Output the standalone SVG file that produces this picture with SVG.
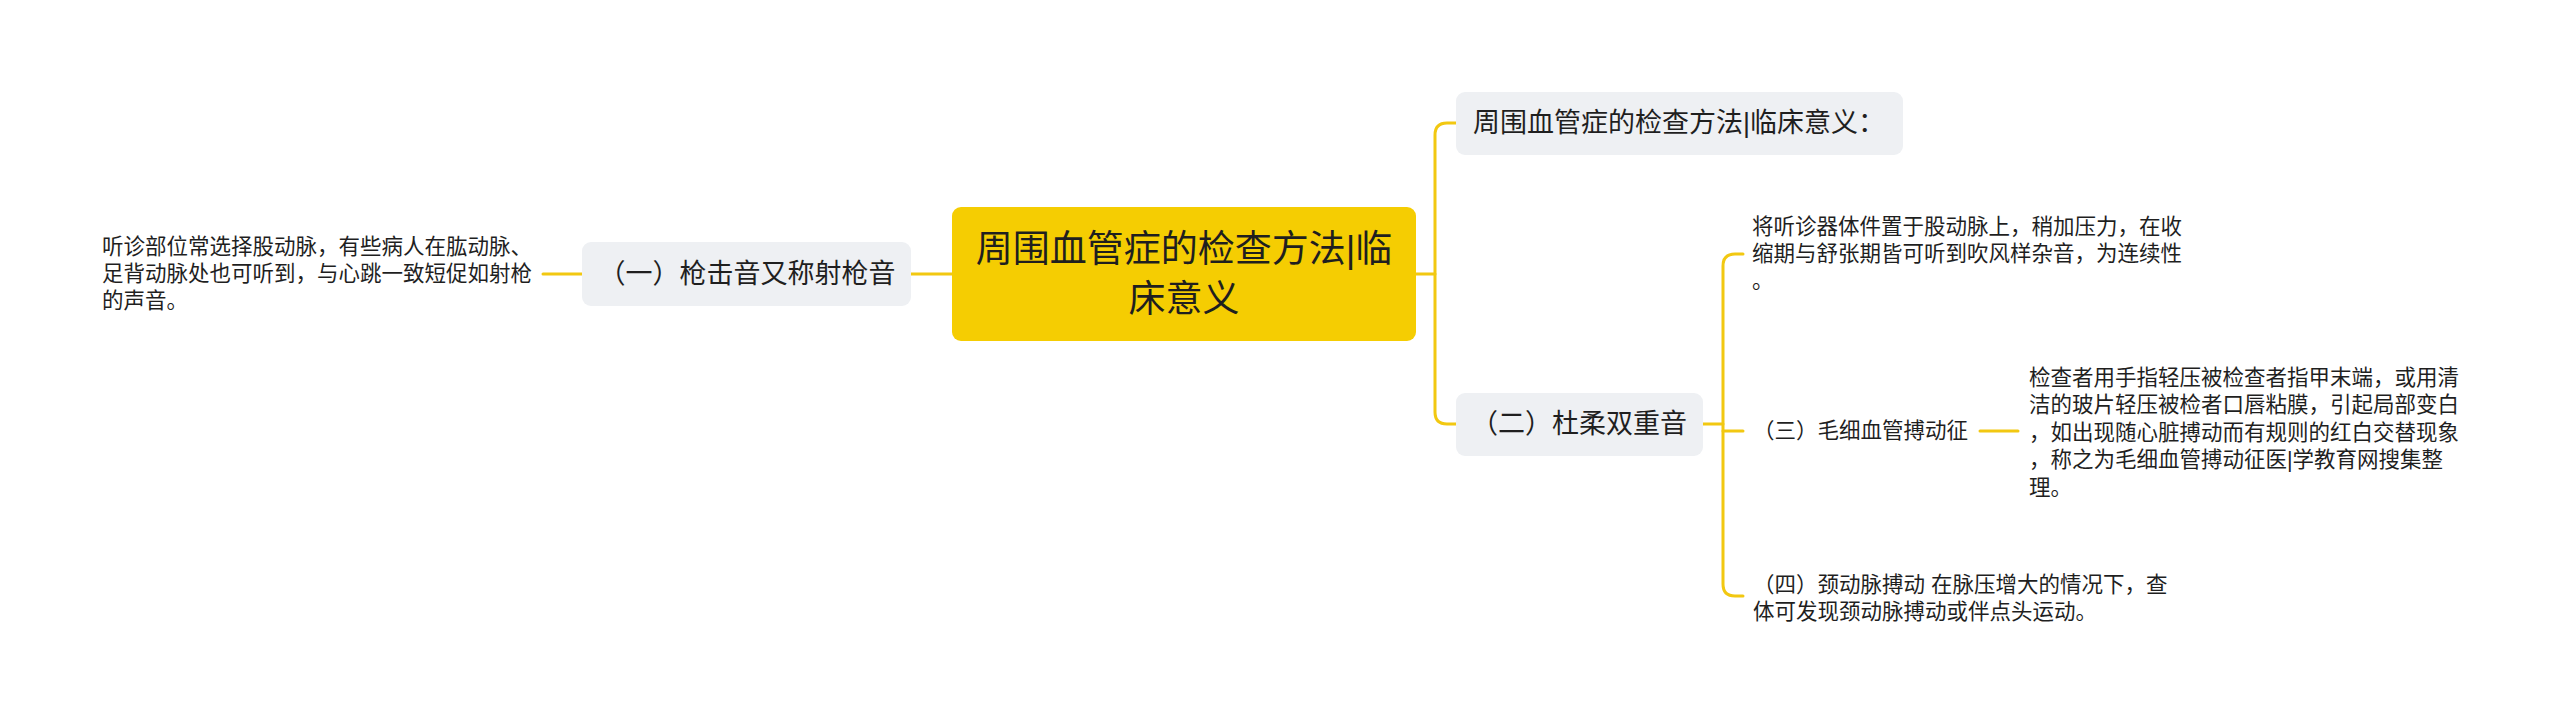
<svg xmlns="http://www.w3.org/2000/svg" width="2560" height="725" viewBox="0 0 2560 725">
<style>
text{font-family:"Liberation Sans","Noto Sans CJK SC",sans-serif;fill:#1f1f1f;dominant-baseline:central}
.root{font-size:37px;text-anchor:middle}
.node{font-size:27px;text-anchor:middle}
.leaf{font-size:21.5px}
.box{fill:#eef0f3}
.line{fill:none;stroke:#f2c811;stroke-width:3;stroke-linecap:round}
</style>
<rect width="2560" height="725" fill="#ffffff"/>
<g id="connectors">
<path class="line" d="M952,274 H911"/>
<path class="line" d="M582,274 H543"/>
<path class="line" d="M1416,274 H1435"/>
<path class="line" d="M1456,123 H1447 Q1435,123 1435,135 V412 Q1435,424 1447,424 H1456"/>
<path class="line" d="M1703,424 H1723"/>
<path class="line" d="M1743,254 H1735 Q1723,254 1723,266 V584 Q1723,596 1735,596 H1743"/>
<path class="line" d="M1723,431 H1743"/>
<path class="line" d="M1980,431 H2018"/>
</g>
<g id="root">
<rect x="952" y="207" width="464" height="134" rx="9" fill="#f5cd02"/>
<text class="root" x="1184" y="249">周围血管症的检查方法|临</text>
<text class="root" x="1184" y="299">床意义</text>
</g>
<g id="node-left">
<rect class="box" x="582" y="242" width="329" height="64" rx="9"/>
<text class="node" x="747" y="274">（一）枪击音又称射枪音</text>
</g>
<g id="leaf-left">
<text class="leaf" x="102" y="247">听诊部位常选择股动脉，有些病人在肱动脉、</text>
<text class="leaf" x="102" y="274">足背动脉处也可听到，与心跳一致短促如射枪</text>
<text class="leaf" x="102" y="301">的声音。</text>
</g>
<g id="node-r1">
<rect class="box" x="1456" y="92" width="447" height="63" rx="9"/>
<text class="node" x="1679" y="123">周围血管症的检查方法|临床意义：</text>
</g>
<g id="node-r2">
<rect class="box" x="1456" y="393" width="247" height="63" rx="9"/>
<text class="node" x="1579" y="424">（二）杜柔双重音</text>
</g>
<g id="leaf-r2a">
<text class="leaf" x="1752" y="227">将听诊器体件置于股动脉上，稍加压力，在收</text>
<text class="leaf" x="1752" y="254">缩期与舒张期皆可听到吹风样杂音，为连续性</text>
<text class="leaf" x="1752" y="281">。</text>
</g>
<g id="leaf-r2b">
<text class="leaf" x="1753" y="431">（三）毛细血管搏动征</text>
</g>
<g id="leaf-r2b-detail">
<text class="leaf" x="2029" y="377.5">检查者用手指轻压被检查者指甲末端，或用清</text>
<text class="leaf" x="2029" y="405">洁的玻片轻压被检者口唇粘膜，引起局部变白</text>
<text class="leaf" x="2029" y="432.5">，如出现随心脏搏动而有规则的红白交替现象</text>
<text class="leaf" x="2029" y="460">，称之为毛细血管搏动征医|学教育网搜集整</text>
<text class="leaf" x="2029" y="487.5">理。</text>
</g>
<g id="leaf-r2c">
<text class="leaf" x="1753" y="585">（四）颈动脉搏动 在脉压增大的情况下，查</text>
<text class="leaf" x="1753" y="612">体可发现颈动脉搏动或伴点头运动。</text>
</g>
</svg>
